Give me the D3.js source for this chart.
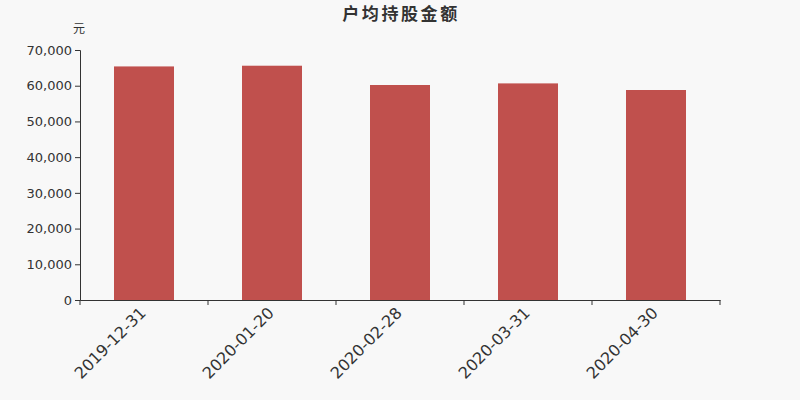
<!DOCTYPE html>
<html>
<head>
<meta charset="utf-8">
<script src="https://cdn.jsdelivr.net/npm/d3@7"></script>
<style>
  body { margin: 0; background: #f8f8f8; }
  text { font-family: "DejaVu Sans", "Noto Sans CJK SC", sans-serif; fill: #333; }
</style>
</head>
<body>
<div id="wrapper"></div>
<script>
const dates = ['2019-12-31', '2020-01-20', '2020-02-28', '2020-03-31', '2020-04-30']
const amounts = [65400, 65600, 60200, 60650, 58800]
const yTicks = [0, 10000, 20000, 30000, 40000, 50000, 60000, 70000]

function drawBars() {
  const dimensions = {
    width: 800,
    height: 400,
    margin: { top: 50, right: 80, bottom: 100, left: 80 },
  }
  dimensions.boundedWidth = dimensions.width - dimensions.margin.left - dimensions.margin.right
  dimensions.boundedHeight = dimensions.height - dimensions.margin.top - dimensions.margin.bottom

  const svg = d3.select('#wrapper').append('svg')
    .attr('width', dimensions.width)
    .attr('height', dimensions.height)
    .style('background', '#f8f8f8')

  const bounds = svg.append('g')
    .attr('transform', `translate(${dimensions.margin.left},${dimensions.margin.top})`)

  const xScale = d3.scaleBand()
    .domain(dates)
    .range([0, dimensions.boundedWidth])

  const yScale = d3.scaleLinear()
    .domain([0, 70000])
    .range([dimensions.boundedHeight, 0])

  const barWidth = 60

  bounds.selectAll('rect.bar')
    .data(dates)
    .enter()
    .append('rect')
    .attr('class', 'bar')
    .attr('x', (d) => xScale(d) + xScale.bandwidth() / 2 - barWidth / 2)
    .attr('y', (d, i) => yScale(amounts[i]))
    .attr('width', barWidth)
    .attr('height', (d, i) => yScale(0) - yScale(amounts[i]))
    .attr('fill', '#c0504d')

  // y axis
  const yAxis = bounds.append('g')
    .call(d3.axisLeft(yScale).tickValues(yTicks).tickFormat(d3.format(',')).tickSize(5).tickPadding(3))
  yAxis.select('.domain').attr('stroke', '#333')
  yAxis.selectAll('.tick line').attr('stroke', '#333')
  yAxis.selectAll('text').style('font-size', '13px').attr('fill', '#333')

  // x axis with boundary ticks
  const xAxis = bounds.append('g')
    .attr('transform', `translate(0,${dimensions.boundedHeight})`)
    .call(d3.axisBottom(xScale).tickSize(0).tickPadding(0))
  xAxis.select('.domain').attr('stroke', '#333')
  xAxis.selectAll('.tick text')
    .style('font-size', '16px')
    .attr('fill', '#333')
    .attr('text-anchor', 'end')
    .attr('dy', '0.35em')
    .attr('transform', 'translate(-1,10) rotate(-45)')

  const boundaries = dates.map((d) => xScale(d)).concat([dimensions.boundedWidth])
  xAxis.selectAll('line.boundary')
    .data(boundaries)
    .enter()
    .append('line')
    .attr('class', 'boundary')
    .attr('x1', (d) => d)
    .attr('x2', (d) => d)
    .attr('y1', 0)
    .attr('y2', 5)
    .attr('stroke', '#333')

  // peripherals
  svg.append('text')
    .attr('x', 401)
    .attr('y', 20)
    .attr('text-anchor', 'middle')
    .style('font-size', '17px')
    .style('font-weight', 'bold')
    .style('letter-spacing', '2.6px')
    .text('户均持股金额')

  svg.append('text')
    .attr('x', 79)
    .attr('y', 33)
    .attr('text-anchor', 'middle')
    .style('font-size', '12px')
    .text('元')
}
drawBars()
</script>
</body>
</html>
